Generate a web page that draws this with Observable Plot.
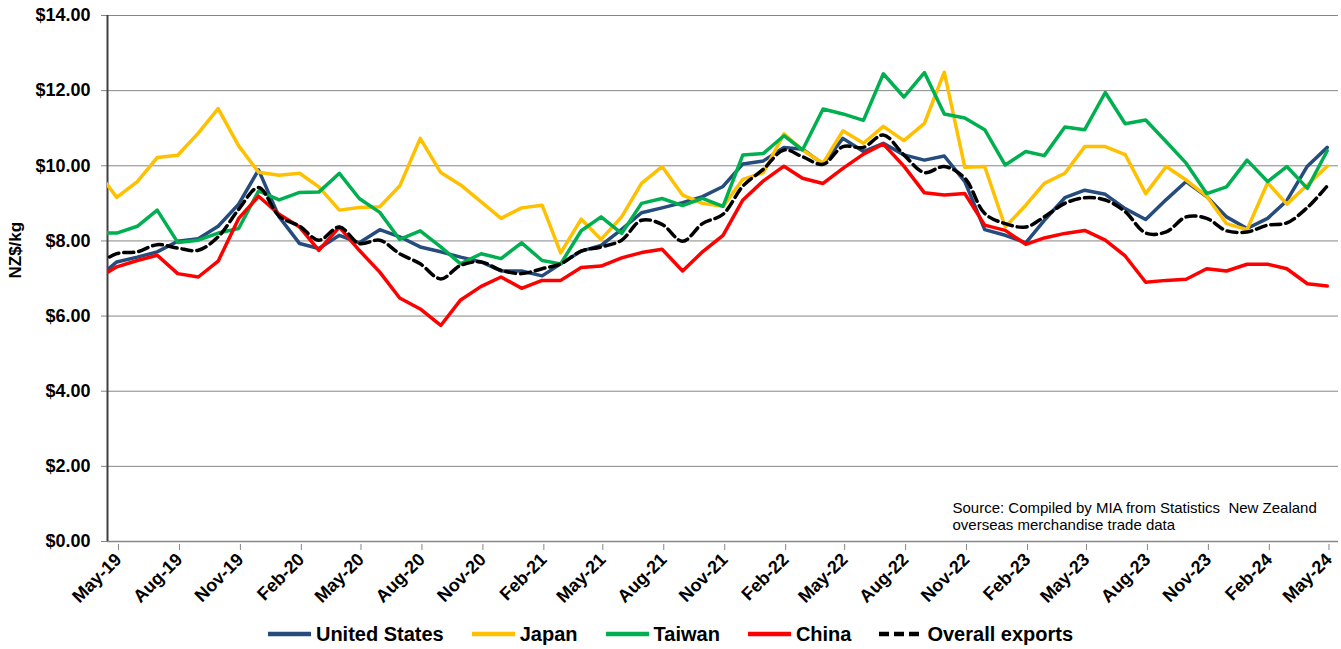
<!DOCTYPE html>
<html><head><meta charset="utf-8">
<script src="https://cdn.jsdelivr.net/npm/d3@7"></script>
<script src="https://cdn.jsdelivr.net/npm/@observablehq/plot@0.6"></script>
<style>
body{margin:0;background:#fff;}
#legend{display:flex;justify-content:center;align-items:center;height:30px;margin-top:7px;
  font-family:"Liberation Sans",Arial,sans-serif;font-weight:bold;font-size:20px;color:#000;}
#legend .item{display:flex;align-items:center;margin:0 14px;}
#legend svg{margin-right:5px;}
</style></head>
<body><div id="chart"></div><div id="legend"></div>
<script>
// Months (data placed mid-month); first month is partly outside the axis start
const months = ["Apr-19","May-19","Jun-19","Jul-19","Aug-19","Sep-19","Oct-19","Nov-19","Dec-19","Jan-20","Feb-20","Mar-20","Apr-20","May-20","Jun-20","Jul-20","Aug-20","Sep-20","Oct-20","Nov-20","Dec-20","Jan-21","Feb-21","Mar-21","Apr-21","May-21","Jun-21","Jul-21","Aug-21","Sep-21","Oct-21","Nov-21","Dec-21","Jan-22","Feb-22","Mar-22","Apr-22","May-22","Jun-22","Jul-22","Aug-22","Sep-22","Oct-22","Nov-22","Dec-22","Jan-23","Feb-23","Mar-23","Apr-23","May-23","Jun-23","Jul-23","Aug-23","Sep-23","Oct-23","Nov-23","Dec-23","Jan-24","Feb-24","Mar-24","Apr-24","May-24"];

const unitedStates = [7.00,7.44,7.57,7.71,7.99,8.06,8.39,8.98,9.89,8.64,7.93,7.80,8.15,7.95,8.30,8.11,7.84,7.71,7.57,7.44,7.20,7.20,7.07,7.39,7.73,7.88,8.31,8.75,8.88,9.02,9.18,9.45,10.05,10.13,10.49,10.44,10.05,10.73,10.38,10.60,10.29,10.15,10.26,9.58,8.30,8.15,7.95,8.55,9.15,9.35,9.24,8.86,8.57,9.10,9.58,9.18,8.64,8.33,8.60,9.07,9.99,10.49];
const japan = [9.86,9.16,9.58,10.22,10.28,10.87,11.52,10.53,9.83,9.75,9.80,9.44,8.82,8.89,8.91,9.46,10.73,9.82,9.49,9.04,8.60,8.88,8.95,7.68,8.58,8.04,8.64,9.53,9.98,9.22,9.00,8.92,9.64,9.82,10.85,10.42,10.07,10.93,10.60,11.05,10.67,11.13,12.49,9.96,9.98,8.37,8.95,9.53,9.80,10.51,10.51,10.30,9.26,9.98,9.62,9.19,8.46,8.30,9.55,8.98,9.49,9.99];
const taiwan = [8.21,8.21,8.39,8.82,7.96,8.02,8.21,8.33,9.33,9.09,9.29,9.30,9.80,9.13,8.76,8.04,8.27,7.84,7.39,7.66,7.53,7.95,7.48,7.39,8.27,8.64,8.20,9.00,9.13,8.94,9.13,8.92,10.29,10.33,10.80,10.42,11.51,11.38,11.21,12.45,11.83,12.48,11.38,11.27,10.96,10.02,10.38,10.27,11.03,10.96,11.95,11.12,11.22,10.64,10.07,9.26,9.44,10.15,9.58,9.98,9.40,10.40];
const china = [6.99,7.31,7.48,7.62,7.13,7.04,7.46,8.60,9.19,8.71,8.37,7.75,8.37,7.75,7.17,6.48,6.19,5.75,6.43,6.79,7.04,6.74,6.95,6.95,7.29,7.33,7.55,7.69,7.78,7.20,7.71,8.15,9.09,9.60,9.99,9.67,9.53,9.93,10.31,10.58,9.99,9.28,9.22,9.26,8.42,8.28,7.91,8.08,8.20,8.28,8.02,7.60,6.90,6.95,6.98,7.26,7.20,7.38,7.38,7.26,6.86,6.80];
const overall = [7.36,7.66,7.71,7.90,7.81,7.75,8.11,8.84,9.42,8.66,8.39,8.02,8.37,7.93,8.02,7.66,7.39,6.99,7.35,7.44,7.22,7.13,7.26,7.39,7.73,7.84,8.02,8.55,8.44,7.99,8.46,8.71,9.46,9.91,10.42,10.24,10.04,10.51,10.49,10.82,10.29,9.82,9.98,9.67,8.73,8.46,8.37,8.64,9.00,9.15,9.09,8.78,8.21,8.24,8.64,8.60,8.27,8.24,8.42,8.48,8.89,9.46];

const seriesNames = ["United States","Japan","Taiwan","China","Overall exports"];
const seriesColors = ["#264B7D","#FFC000","#00B050","#FF0000","#000000"];
const xTickLabels = ["May-19","Aug-19","Nov-19","Feb-20","May-20","Aug-20","Nov-20","Feb-21","May-21","Aug-21","Nov-21","Feb-22","May-22","Aug-22","Nov-22","Feb-23","May-23","Aug-23","Nov-23","Feb-24","May-24"];
const yTicks = [0,2,4,6,8,10,12,14];
const yLabel = "NZ$/kg";
const sourceText = "Source: Compiled by MIA from Statistics  New Zealand\noverseas merchandise trade data";

const parseM = d3.utcParse("%b-%y");
const dates = months.map(m => d3.utcDay.offset(parseM(m), 14));
const tickDates = xTickLabels.map(parseM);
const xStart = tickDates[0];
const xEnd = d3.utcMonth.offset(tickDates[tickDates.length - 1], 1);
const seriesValues = [unitedStates, japan, taiwan, china, overall];

const FONT = '"Liberation Sans",Arial,sans-serif';

const lineMarks = seriesValues.map((vals, i) => Plot.lineY(vals, {
  x: dates, y: vals,
  stroke: seriesColors[i],
  strokeWidth: 3.5,
  strokeDasharray: i === 4 ? "10,5" : null,
  curve: i === 4 ? "catmull-rom" : "linear",
  clip: true
}));

const chart = Plot.plot({
  width: 1341,
  height: 612,
  marginLeft: 107,
  marginRight: 3,
  marginTop: 15,
  marginBottom: 71,
  style: {fontFamily: FONT, fontSize: "18px", fontWeight: "bold", color: "#000", background: "#fff"},
  x: {type: "utc", domain: [xStart, xEnd]},
  y: {domain: [0, 14]},
  marks: [
    Plot.gridY(yTicks, {stroke: "#868686", strokeOpacity: 1, strokeWidth: 1}),
    Plot.ruleY([0], {stroke: "#868686", strokeWidth: 1.5}),
    Plot.axisY({ticks: yTicks, tickFormat: d => "$" + d.toFixed(2), tickSize: 6, tickPadding: 11,
      stroke: "#868686", fill: "#000", fontSize: 18, fontWeight: "bold", label: null}),
    Plot.text([yLabel], {frameAnchor: "left", rotate: -90, dx: -92, fontSize: 17, fontWeight: "bold", fill: "#000"}),
    Plot.axisX({ticks: tickDates, tickFormat: (d, i) => xTickLabels[i], tickRotate: -45, tickSize: 6, tickPadding: 6,
      dx: 11, dy: 3, stroke: "#868686", fill: "#000", fontSize: 18, fontWeight: "bold", label: null}),
    Plot.ruleX([xStart], {stroke: "#404040", strokeWidth: 2}),
    ...lineMarks,
    Plot.text([sourceText], {frameAnchor: "bottom-right", textAnchor: "start", lineAnchor: "bottom",
      dx: -386, dy: -12, fontSize: 15, fontWeight: "normal", lineHeight: 1.07, fill: "#000"})
  ]
});
document.getElementById("chart").appendChild(chart);

const legend = document.getElementById("legend");
seriesNames.forEach((name, i) => {
  const item = document.createElement("div");
  item.className = "item";
  const dash = i === 4 ? ' stroke-dasharray="10,5"' : '';
  item.innerHTML = `<svg width="43" height="10"><line x1="0" y1="5" x2="43" y2="5" stroke="${seriesColors[i]}" stroke-width="4.5"${dash}/></svg><span>${name}</span>`;
  legend.appendChild(item);
});
</script></body></html>
